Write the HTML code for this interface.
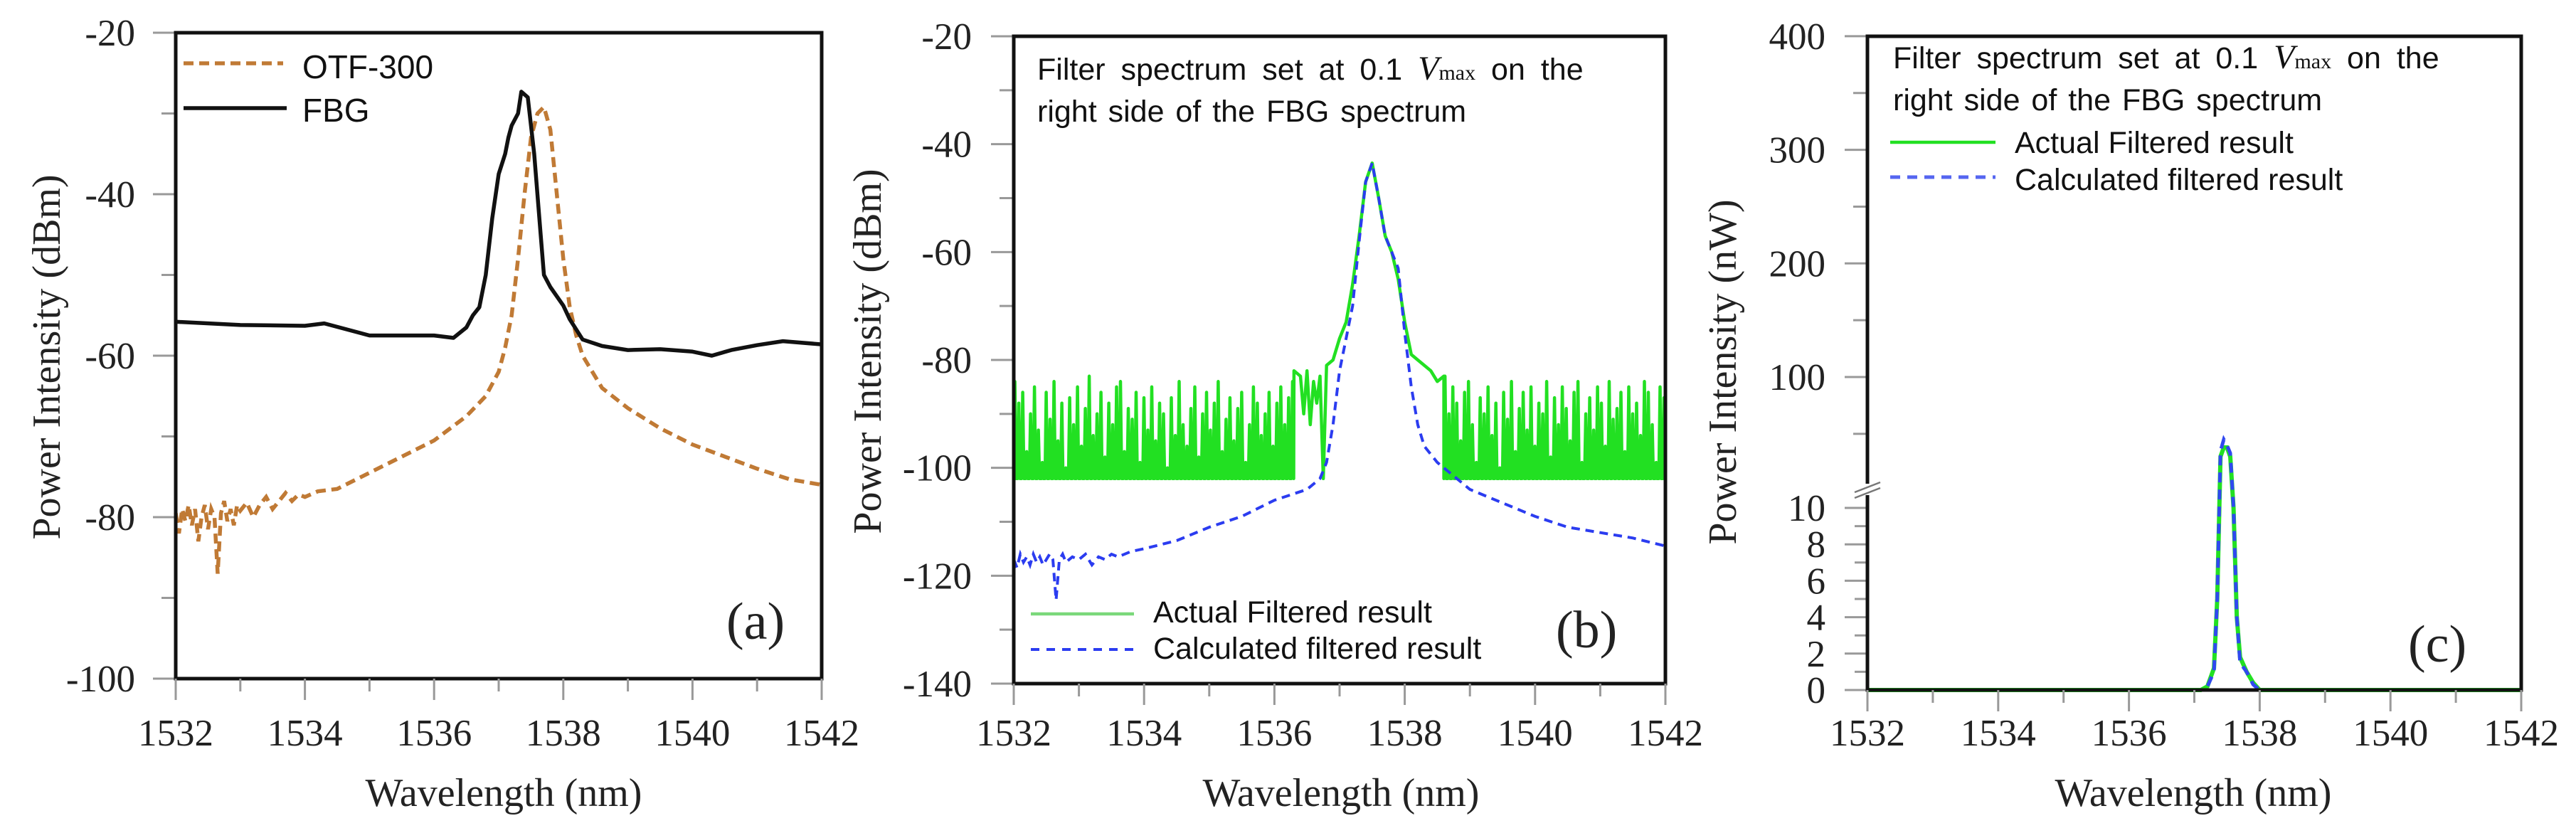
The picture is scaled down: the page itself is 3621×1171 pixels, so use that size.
<!DOCTYPE html>
<html><head><meta charset="utf-8"><style>
html,body{margin:0;padding:0;background:#fff;}
svg{display:block;}
.tk{font-family:"Liberation Serif",serif;font-size:53px;fill:#222;}
.ttl{font-family:"Liberation Serif",serif;font-size:56px;fill:#222;}
.lg{font-family:"Liberation Sans",sans-serif;font-size:46px;fill:#111;}
.lg2{font-family:"Liberation Sans",sans-serif;font-size:43px;fill:#111;}
.pl{font-family:"Liberation Serif",serif;font-size:74px;fill:#222;}
</style></head><body>
<svg id="fig" width="3621" height="1171" viewBox="0 0 3621 1171" xmlns="http://www.w3.org/2000/svg"></svg>
<script>
// ---------- DATA ----------
const xTicks = [1532,1534,1536,1538,1540,1542];
const aYTicks = [-20,-40,-60,-80,-100];
const bYTicks = [-20,-40,-60,-80,-100,-120,-140];
const cYTicksLow = [0,2,4,6,8,10];
const cYTicksHigh = [100,200,300,400];

// Panel (a)
const fbgX = [1532,1533,1534,1534.3,1535,1536,1536.3,1536.5,1536.6,1536.7,1536.8,1536.9,1537.0,1537.1,1537.15,1537.2,1537.3,1537.35,1537.45,1537.55,1537.65,1537.7,1537.8,1538.0,1538.1,1538.3,1538.6,1539,1539.5,1540,1540.3,1540.6,1541,1541.4,1542];
const fbgY = [-55.8,-56.2,-56.3,-56.0,-57.5,-57.5,-57.8,-56.5,-55,-54,-50,-43,-37.5,-35,-33,-31.5,-30,-27.3,-28,-35,-45,-50,-51.5,-53.8,-55.5,-58,-58.8,-59.3,-59.2,-59.5,-60,-59.3,-58.7,-58.2,-58.6];
const otfX = [1532,1532.05,1532.1,1532.15,1532.2,1532.25,1532.3,1532.35,1532.4,1532.45,1532.5,1532.55,1532.6,1532.65,1532.7,1532.75,1532.8,1532.85,1532.9,1532.95,1533,1533.1,1533.2,1533.3,1533.4,1533.5,1533.6,1533.7,1533.8,1533.9,1534,1534.2,1534.5,1535,1535.5,1536,1536.5,1536.8,1537,1537.1,1537.2,1537.3,1537.4,1537.5,1537.6,1537.7,1537.8,1537.9,1538.0,1538.1,1538.2,1538.3,1538.6,1539,1539.5,1540,1540.5,1541,1541.5,1542];
const otfY = [-79.5,-82,-79,-80.5,-78.5,-81,-79,-83,-80,-78.5,-81.5,-79,-80,-87,-79.5,-78,-80.5,-79,-81,-78.5,-79.2,-78.2,-80,-78.5,-77.5,-79,-78,-77,-78,-77.2,-77.5,-76.8,-76.5,-74.5,-72.5,-70.5,-67.5,-65,-62,-59,-55,-48,-40,-33,-30,-29.2,-32,-40,-48,-54,-57.5,-60,-64,-66.5,-69,-71,-72.5,-74,-75.3,-76];

// Panel (b)
const bBase = -102;
const greenLeftStart = 1532, greenRightStart = 1538.6, spikeStep = 0.06;
const greenLeft = [-84,-88,-86,-97,-90,-85,-93,-99,-86,-91,-84,-95,-88,-100,-87,-92,-85,-96,-89,-83,-94,-90,-86,-98,-88,-92,-85,-84,-97,-89,-91,-86,-99,-87,-93,-85,-95,-88,-90,-100,-87,-94,-84,-92,-96,-89,-85,-98,-90,-86,-93,-88,-84,-97,-91,-87,-95,-89,-86,-99,-92,-85,-88,-94,-90,-86,-96,-88,-85,-92,-87,-84];
const greenRight = [-83,-90,-85,-88,-95,-86,-84,-92,-99,-87,-90,-85,-94,-88,-100,-86,-91,-84,-97,-89,-86,-93,-85,-96,-88,-90,-84,-98,-87,-92,-85,-89,-95,-86,-84,-99,-90,-87,-93,-85,-88,-96,-84,-91,-89,-86,-97,-85,-90,-88,-94,-84,-86,-92,-99,-85,-87];
const greenPeakX = [1536.3,1536.4,1536.45,1536.5,1536.55,1536.6,1536.65,1536.7,1536.75,1536.8,1536.9,1537.0,1537.1,1537.2,1537.3,1537.4,1537.5,1537.6,1537.7,1537.8,1537.9,1538.0,1538.1,1538.2,1538.3,1538.4,1538.5,1538.6];
const greenPeakY = [-82,-83,-90,-82,-92,-84,-88,-83,-102,-81,-80,-76,-73,-66,-57,-47,-43.5,-50,-57,-60,-65,-73,-79,-80,-81,-82,-84,-83];
const blueX = [1532,1532.05,1532.1,1532.15,1532.2,1532.25,1532.3,1532.35,1532.4,1532.45,1532.5,1532.55,1532.6,1532.65,1532.7,1532.75,1532.8,1532.9,1533,1533.1,1533.2,1533.3,1533.4,1533.5,1533.6,1533.8,1534,1534.5,1535,1535.5,1536,1536.5,1536.7,1536.8,1536.9,1537.0,1537.1,1537.2,1537.3,1537.4,1537.5,1537.6,1537.7,1537.8,1537.9,1538.0,1538.1,1538.2,1538.3,1538.5,1538.8,1539,1539.5,1540,1540.5,1541,1541.5,1542];
const blueY = [-117,-118.5,-116,-117.5,-116.5,-118,-116,-117.5,-116.5,-118,-117,-116,-117,-124.5,-117,-116,-117.5,-116.5,-117,-116,-118,-116.5,-117,-116,-116.5,-115.5,-115,-113.5,-111,-109,-106,-104,-102,-99,-92,-82,-76,-70,-58,-47,-43.5,-50,-57,-60,-63,-75,-85,-92,-96,-99,-102,-104,-106.5,-109,-111,-112,-113,-114.5];

// Panel (c)
const cX = [1532,1537.1,1537.2,1537.3,1537.35,1537.4,1537.45,1537.5,1537.55,1537.6,1537.65,1537.7,1537.8,1537.9,1538.0,1542];
const cGreen = [0,0,0.2,1.2,5,30,38,38,30,10,4,1.8,1,0.4,0,0];
const cBlue = [0,0,0.2,1,5,35,45,40,33,10,4,1.5,1,0.3,0,0];

// ---------- DRAWING ----------
const NS = "http://www.w3.org/2000/svg";
const svg = document.getElementById('fig');
function el(tag, attrs, parent){
  const e = document.createElementNS(NS, tag);
  for (const k in attrs) e.setAttribute(k, attrs[k]);
  (parent||svg).appendChild(e);
  return e;
}
function txt(s, attrs, parent){ const t = el('text', attrs, parent); t.textContent = s; return t; }

function makeX(L,R){ return x => L + (x-1532)/10*(R-L); }
function makeY(T,B,ymin,ymax){ return y => B - (y-ymin)/(ymax-ymin)*(B-T); }
function poly(xs, ys, sx, sy){ return xs.map((x,i)=>sx(x).toFixed(1)+','+sy(ys[i]).toFixed(1)).join(' '); }

const XLAB = 1048, XTTL = 1133;
function frame(g,L,R,T,B,sx){
  el('rect',{x:L,y:T,width:R-L,height:B-T,fill:'none',stroke:'#111','stroke-width':5},g);
  for(let v=1532; v<=1542; v++){
    const t = el('line',{x1:sx(v),x2:sx(v),y1:B,y2:B+(v%2===0?30:18),stroke:'#999','stroke-width':3},g);
    
    
  }
  xTicks.forEach(v=>{
    const t = txt(String(v),{x:sx(v),y:XLAB,'text-anchor':'middle',class:'tk'},g);
    
    
  });
}
function annot(g,x,y1,y2){
  const a = txt('',{x:x,y:y1,class:'lg2','word-spacing':'10'},g);
  a.innerHTML = 'Filter spectrum set at 0.1 <tspan font-family="Liberation Serif" font-style="italic" font-size="48">V</tspan><tspan font-family="Liberation Serif" font-size="30">max</tspan> on the';
  
  
  txt('right side of the FBG spectrum',{x:x,y:y2,class:'lg2','word-spacing':'4'},g);
}

// ===== Panel a =====
(function(){
  const L=247,R=1155,T=46,B=954;
  const g = el('g',{});  
  const sx = makeX(L,R), sy = makeY(T,B,-100,-20);
  for(let v=-100; v<=-20; v+=10){ el('line',{x1:L-(v%20===0?32:20),x2:L,y1:sy(v),y2:sy(v),stroke:'#999','stroke-width':3},g); }
  aYTicks.forEach(v=>{ const t=txt(String(v),{x:190,y:sy(v)+18,'text-anchor':'end',class:'tk'},g);
      });
  const o = el('polyline',{points:poly(otfX,otfY,sx,sy),fill:'none',stroke:'#c07a35','stroke-width':5.5,'stroke-dasharray':'14 8'},g);
   
  const f = el('polyline',{points:poly(fbgX,fbgY,sx,sy),fill:'none',stroke:'#111','stroke-width':5.5,'stroke-linejoin':'round'},g);
   
  frame(g,L,R,T,B,sx);
  el('line',{x1:258,x2:398,y1:89,y2:89,stroke:'#c07a35','stroke-width':5.5,'stroke-dasharray':'14 8'},g);
  txt('OTF-300',{x:425,y:110,class:'lg'},g);
  el('line',{x1:258,x2:403,y1:152,y2:152,stroke:'#111','stroke-width':5.5},g);
  txt('FBG',{x:425,y:171,class:'lg'},g);
  txt('(a)',{x:1021,y:898,class:'pl'},g);
  txt('Wavelength (nm)',{x:708,y:XTTL,'text-anchor':'middle',class:'ttl'},g);
  txt('Power Intensity (dBm)',{x:0,y:0,'text-anchor':'middle',class:'ttl',transform:'translate(84,502) rotate(-90)'},g);
})();

// ===== Panel b =====
(function(){
  const L=1425,R=2341,T=51,B=961;
  const g = el('g',{});  
  const sx = makeX(L,R), sy = makeY(T,B,-140,-20);
  for(let v=-140; v<=-20; v+=10){ el('line',{x1:L-(v%20===0?32:20),x2:L,y1:sy(v),y2:sy(v),stroke:'#999','stroke-width':3},g); }
  bYTicks.forEach(v=>{ const t=txt(String(v),{x:1366,y:sy(v)+18,'text-anchor':'end',class:'tk'},g);
      });
  let pts=[];
  function spikes(arr,start){ arr.forEach((v,i)=>{ const x=start+i*spikeStep;
    pts.push(sx(x).toFixed(1)+','+sy(bBase).toFixed(1));
    pts.push(sx(x+spikeStep*0.3).toFixed(1)+','+sy(v).toFixed(1));
    pts.push(sx(x+spikeStep*0.6).toFixed(1)+','+sy(bBase).toFixed(1)); }); }
  spikes(greenLeft,greenLeftStart);
  greenPeakX.forEach((x,i)=>pts.push(sx(x).toFixed(1)+','+sy(greenPeakY[i]).toFixed(1)));
  spikes(greenRight,greenRightStart);
  const gr = el('polyline',{points:pts.join(' '),fill:'none',stroke:'#22e022','stroke-width':4.5,'stroke-linejoin':'round'},g);
   
  const bl = el('polyline',{points:poly(blueX,blueY,sx,sy),fill:'none',stroke:'#2b3cf0','stroke-width':4,'stroke-dasharray':'12 8'},g);
   
  frame(g,L,R,T,B,sx);
  annot(g,1458,112,171);
  el('line',{x1:1449,x2:1594,y1:863,y2:863,stroke:'#7ad87a','stroke-width':4.5},g);
  txt('Actual Filtered result',{x:1621,y:875,class:'lg2'},g);
  el('line',{x1:1449,x2:1594,y1:913,y2:913,stroke:'#2b3cf0','stroke-width':4,'stroke-dasharray':'12 10'},g);
  txt('Calculated filtered result',{x:1621,y:926,class:'lg2'},g);
  txt('(b)',{x:2187,y:910,class:'pl'},g);
  txt('Wavelength (nm)',{x:1885,y:XTTL,'text-anchor':'middle',class:'ttl'},g);
  txt('Power Intensity (dBm)',{x:0,y:0,'text-anchor':'middle',class:'ttl',transform:'translate(1238,494) rotate(-90)'},g);
})();

// ===== Panel c =====
(function(){
  const L=2625,R=3544,T=51,B=970;
  const g = el('g',{});  
  const sx = makeX(L,R);
  const sy = v => v<=10 ? 970 - v*25.6 : 530 - (v-100)*1.597;
  for(let v=0; v<=10; v+=1) el('line',{x1:L-(v%2===0?32:18),x2:L,y1:sy(v),y2:sy(v),stroke:'#999','stroke-width':3},g);
  for(let v=50; v<=400; v+=50) el('line',{x1:L-(v%100===0?32:20),x2:L,y1:sy(v),y2:sy(v),stroke:'#999','stroke-width':3},g);
  cYTicksLow.concat(cYTicksHigh).forEach(v=>{ const t=txt(String(v),{x:2566,y:sy(v)+18,'text-anchor':'end',class:'tk'},g);
      });
  const gr = el('polyline',{points:poly(cX,cGreen,sx,sy),fill:'none',stroke:'#22e022','stroke-width':6},g);
   
  const bl = el('polyline',{points:poly(cX,cBlue,sx,sy),fill:'none',stroke:'#3048f0','stroke-width':5,'stroke-dasharray':'14 10'},g);
   
  frame(g,L,R,T,B,sx);
  el('rect',{x:L-6,y:680,width:12,height:16,fill:'#fff'},g);
  el('line',{x1:L-18,x2:L+18,y1:692,y2:678,stroke:'#777','stroke-width':2.5},g);
  el('line',{x1:L-18,x2:L+18,y1:700,y2:686,stroke:'#777','stroke-width':2.5},g);
  annot(g,2661,96,155);
  el('line',{x1:2657,x2:2805,y1:200,y2:200,stroke:'#22e022','stroke-width':4.5},g);
  txt('Actual Filtered result',{x:2832,y:215,class:'lg2'},g);
  el('line',{x1:2657,x2:2805,y1:249,y2:249,stroke:'#5566f0','stroke-width':5,'stroke-dasharray':'14 10'},g);
  txt('Calculated filtered result',{x:2832,y:267,class:'lg2'},g);
  txt('(c)',{x:3385,y:930,class:'pl'},g);
  txt('Wavelength (nm)',{x:3083,y:XTTL,'text-anchor':'middle',class:'ttl'},g);
  txt('Power Intensity (nW)',{x:0,y:0,'text-anchor':'middle',class:'ttl',transform:'translate(2440,523) rotate(-90)'},g);
})();
</script>
</body></html>
